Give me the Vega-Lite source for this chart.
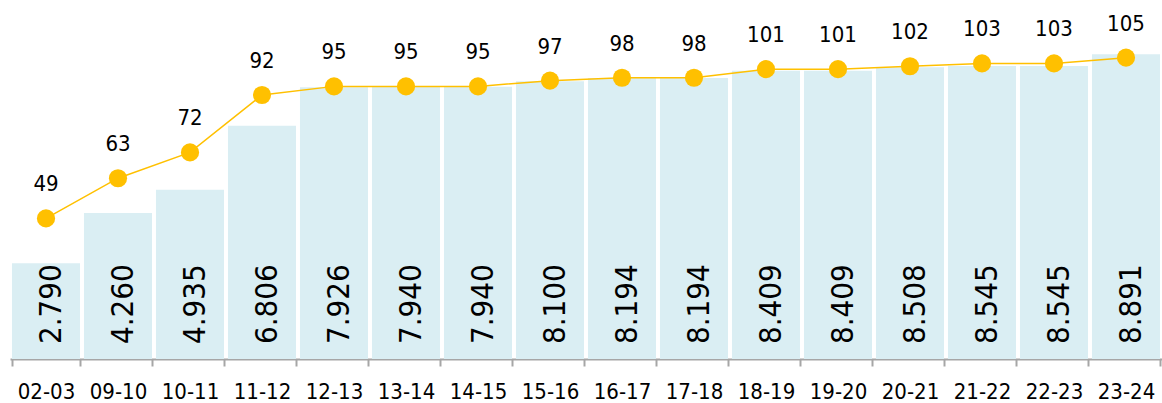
{
  "$schema": "https://vega.github.io/schema/vega-lite/v6.json",
  "width": 1152,
  "height": 359,
  "autosize": {"type": "none"},
  "padding": {"left": 10, "top": 0, "right": 0, "bottom": 44},
  "background": "white",
  "config": {"view": {"stroke": null}, "font": "DejaVu Sans Condensed"},
  "data": {
    "values": [
      {"season": "02-03", "bar": 2.790, "barLabel": "2.790", "line": 49},
      {"season": "09-10", "bar": 4.260, "barLabel": "4.260", "line": 63},
      {"season": "10-11", "bar": 4.935, "barLabel": "4.935", "line": 72},
      {"season": "11-12", "bar": 6.806, "barLabel": "6.806", "line": 92},
      {"season": "12-13", "bar": 7.926, "barLabel": "7.926", "line": 95},
      {"season": "13-14", "bar": 7.940, "barLabel": "7.940", "line": 95},
      {"season": "14-15", "bar": 7.940, "barLabel": "7.940", "line": 95},
      {"season": "15-16", "bar": 8.100, "barLabel": "8.100", "line": 97},
      {"season": "16-17", "bar": 8.194, "barLabel": "8.194", "line": 98},
      {"season": "17-18", "bar": 8.194, "barLabel": "8.194", "line": 98},
      {"season": "18-19", "bar": 8.409, "barLabel": "8.409", "line": 101},
      {"season": "19-20", "bar": 8.409, "barLabel": "8.409", "line": 101},
      {"season": "20-21", "bar": 8.508, "barLabel": "8.508", "line": 102},
      {"season": "21-22", "bar": 8.545, "barLabel": "8.545", "line": 103},
      {"season": "22-23", "bar": 8.545, "barLabel": "8.545", "line": 103},
      {"season": "23-24", "bar": 8.891, "barLabel": "8.891", "line": 105}
    ]
  },
  "encoding": {
    "x": {
      "field": "season",
      "type": "ordinal",
      "sort": null,
      "scale": {"paddingInner": 0.055, "paddingOuter": 0.0275},
      "axis": {
        "title": null,
        "labelAngle": 0,
        "labelFont": "DejaVu Sans Condensed",
        "labelFontSize": 22,
        "labelColor": "#000000",
        "labelPadding": 15,
        "tickBand": "extent",
        "tickSize": 7,
        "tickWidth": 2,
        "tickColor": "#A6A6A6",
        "domainColor": "#A6A6A6",
        "domainWidth": 2,
        "grid": false
      }
    }
  },
  "layer": [
    {
      "mark": {"type": "bar", "color": "#DAEEF3"},
      "encoding": {
        "y": {"field": "bar", "type": "quantitative", "scale": {"domain": [0, 10.47], "nice": false}, "axis": null}
      }
    },
    {
      "mark": {"type": "text", "angle": -90, "align": "left", "baseline": "alphabetic", "dx": 15, "dy": 15, "fontSize": 31, "font": "DejaVu Sans Condensed", "color": "#000000"},
      "encoding": {
        "y": {"datum": 0, "type": "quantitative", "scale": {"domain": [0, 10.47], "nice": false}, "axis": null},
        "text": {"field": "barLabel"}
      }
    },
    {
      "mark": {"type": "line", "color": "#FFC000", "strokeWidth": 1.5},
      "encoding": {
        "y": {"field": "line", "type": "quantitative", "scale": {"domain": [0, 125.1], "nice": false}, "axis": null}
      }
    },
    {
      "mark": {"type": "point", "filled": true, "opacity": 1, "color": "#FFC000", "size": 330},
      "encoding": {
        "y": {"field": "line", "type": "quantitative", "scale": {"domain": [0, 125.1], "nice": false}, "axis": null}
      }
    },
    {
      "mark": {"type": "text", "baseline": "alphabetic", "dy": -27, "fontSize": 22, "font": "DejaVu Sans Condensed", "color": "#000000"},
      "encoding": {
        "y": {"field": "line", "type": "quantitative", "scale": {"domain": [0, 125.1], "nice": false}, "axis": null},
        "text": {"field": "line"}
      }
    }
  ],
  "resolve": {"scale": {"y": "independent"}}
}
